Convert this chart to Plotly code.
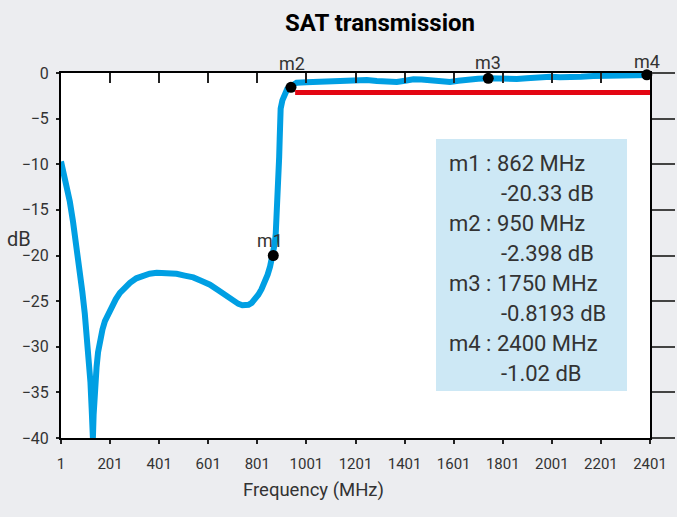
import plotly.graph_objects as go

# ---------------- data ----------------
freq = [1, 20, 37, 50, 64, 76, 88, 98, 107, 115, 121, 126, 131, 134, 137, 141, 146,
        152, 160, 170, 180, 193, 208, 224, 241, 260, 282, 308, 336, 362, 391, 430,
        472, 505, 540, 574, 608, 642, 676, 700, 724, 740, 751, 765, 778, 792, 805,
        818, 832, 843, 853, 860, 866, 872, 876, 879, 882, 885, 888, 890, 892, 894,
        896, 903, 910, 916, 923, 930, 938, 949, 961, 1000, 1043, 1090, 1138, 1172,
        1206, 1247, 1288, 1330, 1369, 1403, 1437, 1470, 1505, 1545, 1586, 1620,
        1654, 1700, 1742, 1780, 1817, 1858, 1899, 1945, 1994, 2035, 2075, 2120,
        2170, 2218, 2265, 2325, 2385, 2401]
s21_db = [-9.7, -11.8, -14.1, -16.3, -18.9, -21.4, -24.0, -26.4, -28.9, -31.4,
          -33.9, -36.8, -40.0, -37.4, -35.1, -33.6, -32.2, -30.6, -29.2, -28.1,
          -27.2, -26.4, -25.6, -24.8, -24.1, -23.5, -23.0, -22.5, -22.2, -22.0,
          -21.9, -21.9, -22.0, -22.2, -22.4, -22.8, -23.2, -23.8, -24.5, -24.95,
          -25.3, -25.45, -25.5, -25.4, -25.2, -24.8, -24.3, -23.7, -22.9, -22.1,
          -21.2, -20.5, -19.7, -18.7, -17.6, -16.2, -14.6, -12.8, -11.0, -9.2,
          -7.3, -5.5, -3.9, -3.0, -2.4, -2.0, -1.75, -1.6, -1.45, -1.25, -1.06,
          -1.0, -0.95, -0.9, -0.84, -0.76, -0.69, -0.78, -0.88, -0.96, -0.99,
          -0.84, -0.69, -0.72, -0.77, -0.9, -0.99, -0.86, -0.69, -0.62, -0.58,
          -0.64, -0.73, -0.66, -0.58, -0.48, -0.40, -0.46, -0.51, -0.42, -0.33,
          -0.31, -0.29, -0.25, -0.22, -0.22]

spec_freq = [955, 2401]
spec_db = [-2.15, -2.15]

marker_names = ["m1", "m2", "m3", "m4"]
marker_freq = [866, 938, 1742, 2388]          # plotted positions
marker_db = [-20.0, -1.57, -0.58, -0.2]
marker_freq_text = ["862", "950", "1750", "2400"]   # legend box texts
marker_db_text = ["-20.33", "-2.398", "-0.8193", "-1.02"]

x_ticks = list(range(1, 2402, 200))
y_ticks = list(range(0, -41, -5))

# ---------------- styles ----------------
BLUE = "#009fe3"
RED = "#e30613"
BG = "#ecedf0"
BOX = "#cde8f5"
TXT = "#333333"
FONT = "Roboto, Liberation Sans, sans-serif"

L, R, T, B = 61, 27, 73, 79
W, H = 677, 517
PW, PH = W - L - R, H - T - B

fig = go.Figure()
fig.add_trace(go.Scatter(x=freq, y=s21_db, mode="lines",
                         line=dict(color=BLUE, width=6), hoverinfo="skip",
                         showlegend=False))
fig.add_trace(go.Scatter(x=spec_freq, y=spec_db, mode="lines",
                         line=dict(color=RED, width=5), xaxis="x2", yaxis="y2",
                         hoverinfo="skip", showlegend=False))
fig.add_trace(go.Scatter(x=marker_freq, y=marker_db, mode="markers",
                         marker=dict(color="black", size=11), cliponaxis=False,
                         hoverinfo="skip", showlegend=False))

# marker labels
label_shift = [(-3, 15), (1, 24), (0, 16), (0, 13)]
for name, fx, fy, (dx, dy) in zip(marker_names, marker_freq, marker_db, label_shift):
    fig.add_annotation(x=fx, y=fy, text=name, showarrow=False, xshift=dx, yshift=dy,
                       font=dict(family=FONT, size=18, color=TXT),
                       xanchor="center", yanchor="middle")

# legend box
def px_x(p):
    return (p - L) / PW

def px_y(p):
    return (T + PH - p) / PH

fig.add_shape(type="rect", xref="paper", yref="paper",
              x0=px_x(436), x1=px_x(627), y0=px_y(391), y1=px_y(139),
              fillcolor=BOX, line=dict(width=0), layer="above")
for i, (name, fq, db) in enumerate(zip(marker_names, marker_freq_text, marker_db_text)):
    y1 = 163 + i * 60
    fig.add_annotation(xref="paper", yref="paper", x=px_x(447), y=px_y(y1),
                       text=f"{name} : {fq} MHz", showarrow=False,
                       xanchor="left", yanchor="middle",
                       font=dict(family=FONT, size=22, color=TXT))
    fig.add_annotation(xref="paper", yref="paper", x=px_x(499), y=px_y(y1 + 30),
                       text=f"{db} dB", showarrow=False,
                       xanchor="left", yanchor="middle",
                       font=dict(family=FONT, size=22, color=TXT))

# axis titles
fig.add_annotation(xref="paper", yref="paper", x=px_x(313), y=px_y(490),
                   text="Frequency (MHz)", showarrow=False,
                   xanchor="center", yanchor="middle",
                   font=dict(family=FONT, size=18.5, color=TXT))
fig.add_annotation(xref="paper", yref="paper", x=px_x(19), y=px_y(239),
                   text="dB", showarrow=False, xanchor="center", yanchor="middle",
                   font=dict(family=FONT, size=20, color=TXT))

axis_common = dict(showgrid=False, zeroline=False, showline=True,
                   linecolor="black", linewidth=2, automargin=False)

fig.update_layout(
    width=W, height=H,
    margin=dict(l=L, r=R, t=T, b=B, autoexpand=False),
    paper_bgcolor=BG, plot_bgcolor="white",
    title=dict(text="<b>SAT transmission</b>", xref="paper", x=px_x(380),
               xanchor="center", yref="container", y=1 - 23 / H, yanchor="middle",
               font=dict(family=FONT, size=24, color="black")),
    xaxis=dict(range=[1, 2401], tickvals=x_ticks, ticks="outside", ticklen=4,
               tickwidth=1.5, tickcolor="#222",
               tickfont=dict(family=FONT, size=15, color=TXT), ticklabelstandoff=7,
               **axis_common),
    xaxis2=dict(range=[1, 2401], tickvals=x_ticks, ticks="inside", ticklen=10,
                tickwidth=1.5, tickcolor="#222", showticklabels=False,
                overlaying="x", side="top", **axis_common),
    yaxis=dict(range=[-40, 0], tickvals=y_ticks, ticks="outside", ticklen=3,
               tickwidth=1.5, tickcolor="#222",
               tickfont=dict(family=FONT, size=16, color=TXT), ticklabelstandoff=4,
               **axis_common),
    yaxis2=dict(range=[-40, 0], tickvals=y_ticks, ticks="outside", ticklen=23,
                tickwidth=2, tickcolor="#444", showticklabels=False,
                overlaying="y", side="right", **axis_common),
)

fig.write_html("out.html",
               config={"displayModeBar": False},
               post_script="document.body.style.margin='0';"
                           "document.body.style.background='#ecedf0';")
